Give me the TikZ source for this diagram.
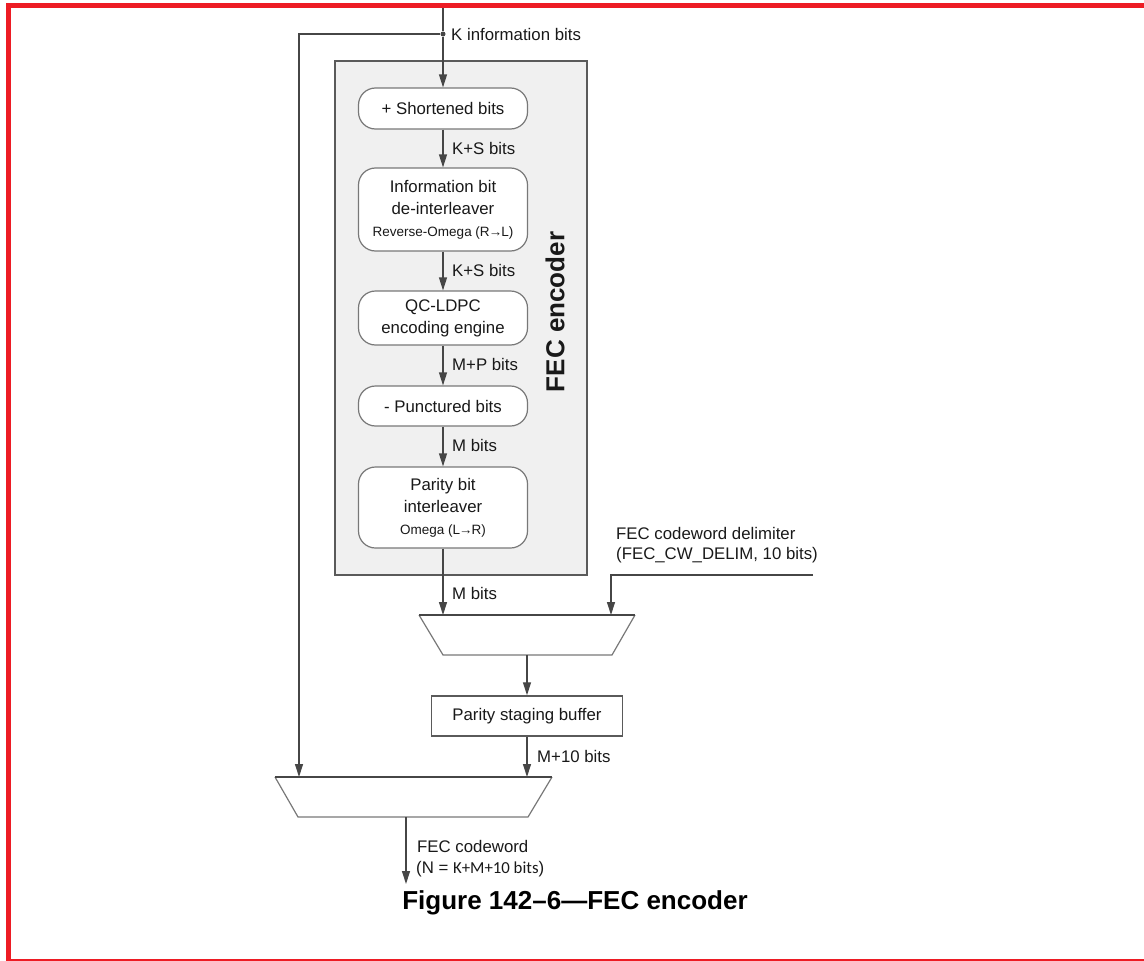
\documentclass[tikz,border=0pt]{standalone}
\usepackage{fontspec}
\setmainfont{Liberation Sans}
\newfontfamily\calfont{Carlito}
\usepackage{tikz}
\usetikzlibrary{arrows.meta,positioning,calc}
\usepackage{xcolor}
\definecolor{borderred}{RGB}{237,28,36}
\definecolor{linegray}{RGB}{70,70,70}
\definecolor{boxgray}{RGB}{120,120,120}
\definecolor{framegray}{RGB}{90,90,90}
\definecolor{encfill}{RGB}{240,240,240}
\definecolor{textdark}{RGB}{25,25,25}
\newcommand{\lblfont}{\fontsize{16.8}{22}\selectfont}
\newcommand{\subfont}{\fontsize{13.5}{17}\selectfont}
\newcommand{\dirarrow}{\kern-1pt→\kern-1pt}

\begin{document}
\begin{tikzpicture}[x=1pt, y=-1pt,
    stage/.style={rectangle, draw=boxgray, line width=1.2pt, fill=white,
        rounded corners=17pt, minimum width=169pt, align=center,
        font=\lblfont, text=textdark, inner sep=2pt},
    bufbox/.style={rectangle, draw=framegray, line width=1.5pt, fill=white,
        minimum width=191pt, minimum height=40pt, font=\lblfont, text=textdark},
    encframe/.style={rectangle, draw=framegray, line width=2.5pt, fill=encfill,
        minimum width=252pt, minimum height=514pt},
    lbl/.style={anchor=west, font=\lblfont, text=textdark, inner sep=0pt},
    arr/.style={-{Triangle[length=13pt,width=8pt]}, line width=1.2pt, draw=linegray},
    wire/.style={line width=1.2pt, draw=linegray},
    muxline/.style={line width=1.2pt, draw=boxgray},
    muxtop/.style={line width=2pt, draw=linegray},
    dot/.style={circle, fill=linegray, inner sep=0pt, minimum size=5pt}
]
    \useasboundingbox (0,0) rectangle (1144,961);

    % Page frame
    \fill[borderred] (6,3) rectangle (11,961);
    \fill[borderred] (6,3) rectangle (1144,8);
    \fill[borderred] (6,958.5) rectangle (1144,960.5);

    % FEC encoder block
    \node[encframe] (enc) at (461,318) {};
    \node[rotate=90, font=\bfseries\fontsize{26}{30}\selectfont, text=textdark] (enclbl) at (555,312) {FEC encoder};

    \node[stage, minimum height=41pt] (shorten) at (443,108.5) {+ Shortened bits};
    \node[stage, minimum height=83pt] (deint) at (443,209.5)
        {Information bit\\de-interleaver\\{\subfont Reverse-Omega (R\dirarrow L)}};
    \node[stage, minimum height=54pt] (ldpc) at (443,318) {QC-LDPC\\encoding engine};
    \node[stage, minimum height=40pt] (punct) at (443,406) {- Punctured bits};
    \node[stage, minimum height=81pt] (parint) at (443,507.5)
        {Parity bit\\interleaver\\{\subfont Omega (L\dirarrow R)}};

    % Input and split
    \coordinate (kin) at (443,8);
    \node[dot] (split) at (443,34) {};
    \node[lbl] (kinfo) at (451,34) {K information bits};
    \draw[wire] (kin) -- (split);
    \draw[arr] (split) -- (shorten);

    \draw[arr] (shorten) -- (deint);
    \node[lbl] (ks1) at (452,148) {K+S bits};
    \draw[arr] (deint) -- (ldpc);
    \node[lbl] (ks2) at (452,270) {K+S bits};
    \draw[arr] (ldpc) -- (punct);
    \node[lbl] (mp) at (452,364) {M+P bits};
    \draw[arr] (punct) -- (parint);
    \node[lbl] (m1) at (452,445) {M bits};

    % Parity mux
    \coordinate (mux1a) at (443,615);
    \coordinate (mux1b) at (611,615);
    \coordinate (mux1o) at (527,655);
    \draw[muxline] (419,615) -- (443,655) -- (612,655) -- (635,615);
    \draw[muxtop] (419,615) -- (635,615);

    \draw[arr] (parint) -- (mux1a);
    \node[lbl] (m2) at (452,593) {M bits};

    \coordinate (delim) at (813,575);
    \draw[arr] (delim) -| (mux1b);
    \node[lbl, align=left, font=\fontsize{16.8}{20}\selectfont] (delimlbl) at (616,545)
        {FEC codeword delimiter\\(FEC\_CW\_DELIM, 10 bits)};

    \node[bufbox] (buffer) at (527,716) {Parity staging buffer};
    \draw[arr] (mux1o) -- (mux1o |- buffer.north);

    % Codeword mux
    \coordinate (mux2a) at (299,777);
    \coordinate (mux2b) at (527,777);
    \coordinate (mux2o) at (406,817);
    \draw[muxline] (275,777) -- (298,817) -- (528,817) -- (552,777);
    \draw[muxtop] (275,777) -- (552,777);

    \draw[arr] (split) -| (mux2a);
    \draw[arr] (buffer.south -| mux2b) -- (mux2b);
    \node[lbl] (m10) at (537,756) {M+10 bits};

    \coordinate (cwout) at (406,884);
    \draw[arr] (mux2o) -- (cwout);
    \node[lbl] (cw) at (417,846) {FEC codeword};
    \node[lbl] (cwlen) at (416,869) {(N = {\calfont K+M+10 bits})};

    \node[font=\bfseries\fontsize{26}{30}\selectfont, text=black] (caption) at (575,903)
        {Figure 142–6—FEC encoder};
\end{tikzpicture}
\end{document}
